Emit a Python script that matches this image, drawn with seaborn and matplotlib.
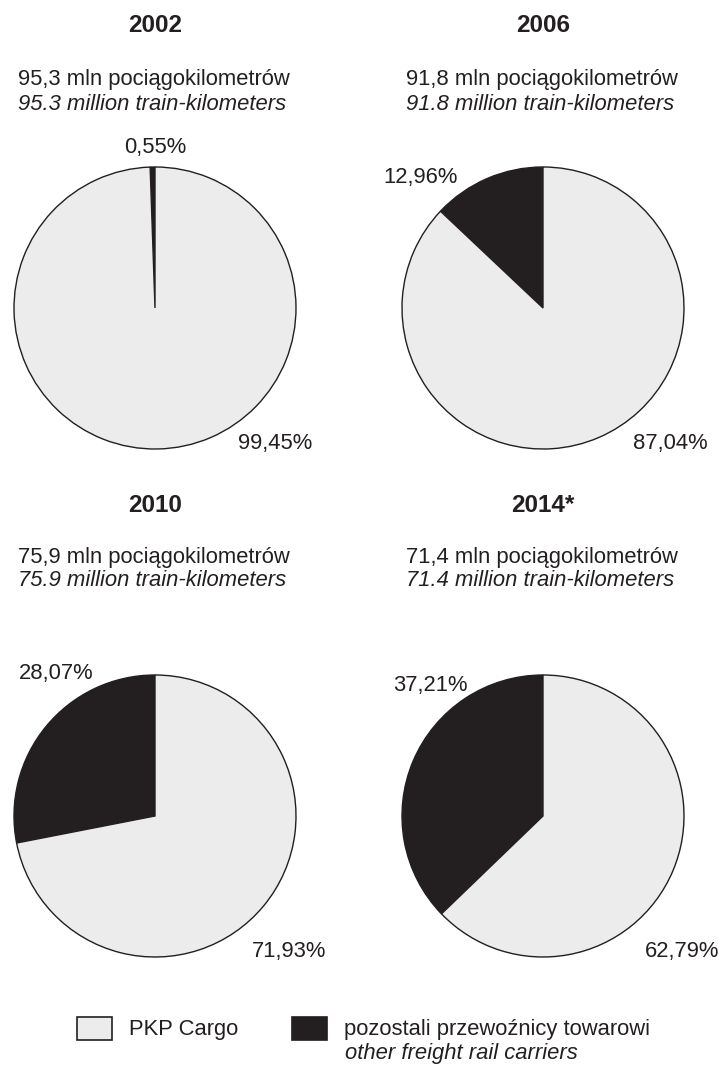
import matplotlib
matplotlib.use("Agg")
import matplotlib.pyplot as plt
import seaborn as sns
from matplotlib.patches import Rectangle

# ---- data ----
years = ["2002", "2006", "2010", "2014*"]
train_km = [95.3, 91.8, 75.9, 71.4]          # million train-kilometres
pkp_share = [99.45, 87.04, 71.93, 62.79]     # PKP Cargo, %
other_share = [0.55, 12.96, 28.07, 37.21]    # other freight carriers, %
legend_pl = ["PKP Cargo", "pozostali przewoźnicy towarowi"]
legend_en = ["", "other freight rail carriers"]

sns.set_theme(style="white")
plt.rcParams["font.family"] = ["Liberation Sans", "DejaVu Sans"]

W, H = 718, 1065
INK = "#231f20"
LIGHT = "#ececec"
palette = [INK, LIGHT]   # order: other, PKP
FS = 15.8

fig = plt.figure(figsize=(W / 100, H / 100), dpi=100)
ax = fig.add_axes([0, 0, 1, 1])


def Y(yp):
    return H - yp


R = 141
centers = [(155, 308), (543, 308), (155, 816), (543, 816)]
title_y = [25, 25, 505, 505]
sub_y = [80, 80, 557, 557]
other_off = [(0, -161), (-122, -131), (-99, -143), (-113, -131)]
pkp_off = [(120, 135), (127, 135), (134, 135), (139, 135)]

for i, yr in enumerate(years):
    cx, cy = centers[i]
    ax.pie([other_share[i], pkp_share[i]], colors=palette, startangle=90,
           counterclock=True, center=(cx, Y(cy)), radius=R,
           wedgeprops=dict(edgecolor=INK, linewidth=1.0), frame=True)
    ax.text(cx, Y(title_y[i]), yr, ha="center", va="center",
            fontsize=17.5, fontweight="bold", color=INK)
    val_pl = f"{train_km[i]:.1f}".replace(".", ",")
    ax.text(cx - 137, Y(sub_y[i]), f"{val_pl} mln pociągokilometrów",
            ha="left", va="center", fontsize=FS, color=INK)
    ax.text(cx - 137, Y(sub_y[i] + 24), f"{train_km[i]:.1f} million train-kilometers",
            ha="left", va="center", fontsize=FS, style="italic", color=INK)
    ox, oy = other_off[i]
    ax.text(cx + ox, Y(cy + oy), f"{other_share[i]:.2f}%".replace(".", ","),
            ha="center", va="center", fontsize=FS, color=INK)
    px, py = pkp_off[i]
    ax.text(cx + px, Y(cy + py), f"{pkp_share[i]:.2f}%".replace(".", ","),
            ha="center", va="center", fontsize=FS, color=INK)

ax.set_xlim(0, W)
ax.set_ylim(0, H)
ax.set_aspect("equal")
ax.axis("off")

# ---- legend ----
boxes = [(77, LIGHT), (292, INK)]
for (bx, col), pl, en in zip(boxes, legend_pl, legend_en):
    ax.add_patch(Rectangle((bx, Y(1040)), 35, 23, facecolor=col,
                           edgecolor=INK, linewidth=1.2))
    ax.text(bx + 52, Y(1029), pl, ha="left", va="center", fontsize=FS, color=INK)
    if en:
        ax.text(bx + 53, Y(1054), en, ha="left", va="center", fontsize=FS,
                style="italic", color=INK)

fig.savefig("out.png", dpi=100, facecolor="white")
